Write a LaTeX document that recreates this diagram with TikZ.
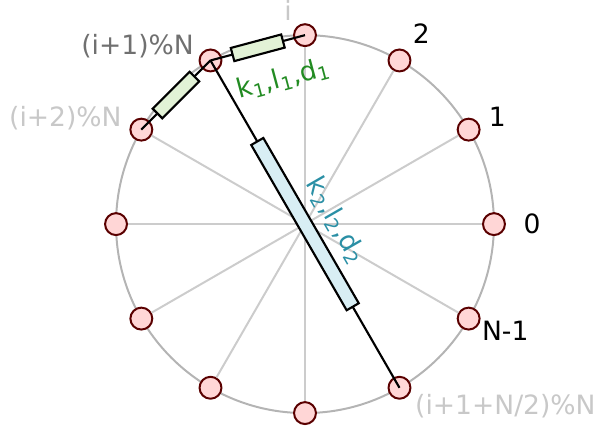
\documentclass[tikz,border=0pt]{standalone}
\usepackage{fontspec}
\setmainfont{DejaVu Sans}
\usepackage{xcolor}
\usepackage{tikz}
\usetikzlibrary{positioning}

\definecolor{massfill}{HTML}{FFD6D6}
\definecolor{massedge}{HTML}{5A0000}
\definecolor{rimgray}{HTML}{B4B4B4}
\definecolor{spokegray}{HTML}{CCCCCC}
\definecolor{faintgray}{HTML}{C8C8C8}
\definecolor{midgray}{HTML}{707070}
\definecolor{nearfill}{HTML}{E2F2D6}
\definecolor{nearink}{HTML}{228B22}
\definecolor{farfill}{HTML}{D8EEF4}
\definecolor{farink}{HTML}{2A8FA5}

\begin{document}
\begin{tikzpicture}[
      m/.style={circle, draw=massedge, fill=massfill, line width=1.5pt,
      minimum size=5.8mm, inner sep=0pt},
      spoke/.style={draw=spokegray, line width=1.5pt},
      link/.style={draw=black, line width=1.6pt},
      nearspring/.style={draw, line width=1.6pt, fill=nearfill,
      minimum width=13.8mm, minimum height=3.6mm, inner sep=0pt},
      farspring/.style={draw, line width=1.6pt, fill=farfill,
      minimum width=50.5mm, minimum height=3.7mm, inner sep=0pt},
      lbl/.style={font=\fontsize{20}{24}\selectfont, inner sep=0pt, anchor=base}]
    \useasboundingbox (-8.07,-5.56) rectangle (7.70,5.93);
    \coordinate (c) at (0,0);
    \draw[rimgray, line width=1.5pt] (c) circle (5);
    % masses on the ring
    \node[m] (m0) at (0:5) {};
    \node[m] (m1) at (30:5) {};
    \node[m] (m2) at (60:5) {};
    \node[m] (m3) at (90:5) {};
    \node[m] (m4) at (120:5) {};
    \node[m] (m5) at (150:5) {};
    \node[m] (m6) at (180:5) {};
    \node[m] (m7) at (210:5) {};
    \node[m] (m8) at (240:5) {};
    \node[m] (m9) at (270:5) {};
    \node[m] (m10) at (300:5) {};
    \node[m] (m11) at (330:5) {};
    % spokes
    \draw[spoke] (c) -- (m0);
    \draw[spoke] (c) -- (m1);
    \draw[spoke] (c) -- (m2);
    \draw[spoke] (c) -- (m3);
    \draw[spoke] (c) -- (m5);
    \draw[spoke] (c) -- (m6);
    \draw[spoke] (c) -- (m7);
    \draw[spoke] (c) -- (m8);
    \draw[spoke] (c) -- (m9);
    \draw[spoke] (c) -- (m11);
    % springs
    \draw[link] (m3.center) -- (m4.center);
    \draw[link] (m4.center) -- (m5.center);
    \draw[link] (m4.center) -- (m10.center);
    \node[nearspring, rotate=15] (s1) at (105:4.83) {};
    \node[nearspring, rotate=45] (s2) at (135:4.83) {};
    \node[farspring, rotate=-60] (s3) at (c) {};
    \node[font=\fontsize{20}{24}\selectfont, text=nearink, inner sep=0pt, rotate=15]
      (k1) at (-0.58,3.84) {k\textsubscript{1},l\textsubscript{1},d\textsubscript{1}};
    \node[font=\fontsize{20}{24}\selectfont, text=farink, inner sep=0pt, rotate=-60]
      (k2) at (0.81,0.09) {k\textsubscript{2},l\textsubscript{2},d\textsubscript{2}};
    % labels
    \node[lbl] (l0) at (6.01,-0.24) {0};
    \node[lbl] (l1) at (5.09,2.57) {1};
    \node[lbl] (l2) at (3.08,4.79) {2};
    \node[lbl, text=faintgray] (li) at (-0.45,5.40) {i};
    \node[lbl, text=midgray] (li1) at (-4.43,4.50) {(i+1)\%N};
    \node[lbl, text=faintgray] (li2) at (-6.34,2.59) {(i+2)\%N};
    \node[lbl, text=faintgray, anchor=base west] (lh) at (2.91,-5.05) {(i+1+N/2)\%N};
    \node[lbl] (ln) at (5.30,-3.07) {N-1};
  \end{tikzpicture}
\end{document}
